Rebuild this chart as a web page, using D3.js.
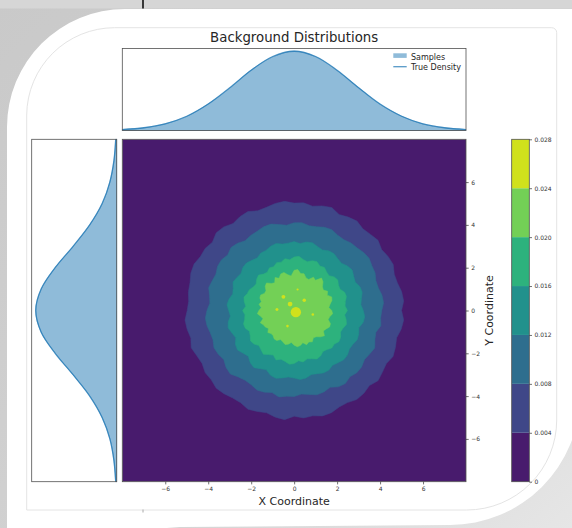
<!DOCTYPE html>
<html>
<head>
<meta charset="utf-8">
<script src="https://cdn.jsdelivr.net/npm/d3@7"></script>
<style>
  body { margin: 0; background: #d3d3d3; }
  svg { display: block; font-family: "DejaVu Sans", sans-serif; }
</style>
</head>
<body>
<div id="chart"></div>
<script>
// marginal densities, read at x (or y) = -8 ... 8
const gridPoints = [-8, -7, -6, -5, -4, -3, -2, -1, 0, 1, 2, 3, 4, 5, 6, 7, 8];
const xSamples = [0.0020, 0.0049, 0.0128, 0.0262, 0.0497, 0.0790, 0.1130, 0.1372, 0.1484, 0.1376, 0.1119, 0.0802, 0.0489, 0.0270, 0.0122, 0.0053, 0.0017];
const xTrue    = [0.0018, 0.0051, 0.0125, 0.0266, 0.0493, 0.0797, 0.1124, 0.1380, 0.1478, 0.1380, 0.1124, 0.0797, 0.0493, 0.0266, 0.0125, 0.0051, 0.0018];
const ySamples = [0.0019, 0.0052, 0.0124, 0.0268, 0.0490, 0.0801, 0.1121, 0.1384, 0.1480, 0.1378, 0.1127, 0.0794, 0.0496, 0.0264, 0.0127, 0.0050, 0.0018];
const yTrue    = [0.0018, 0.0051, 0.0125, 0.0266, 0.0493, 0.0797, 0.1124, 0.1380, 0.1478, 0.1380, 0.1124, 0.0797, 0.0493, 0.0266, 0.0125, 0.0051, 0.0018];

// filled contour levels of the 2D density
const contourLevels = [0, 0.004, 0.008, 0.012, 0.016, 0.020, 0.024, 0.028];

// contour boundaries: radius (data units) at each angle (degrees, counterclockwise from +x)
const ringAngles = [0, 5, 10, 15, 20, 25, 30, 35, 40, 45, 50, 55, 60, 65, 70, 75, 80, 85,
  90, 95, 100, 105, 110, 115, 120, 125, 130, 135, 140, 145, 150, 155, 160, 165, 170, 175,
  180, 185, 190, 195, 200, 205, 210, 215, 220, 225, 230, 235, 240, 245, 250, 255, 260, 265,
  270, 275, 280, 285, 290, 295, 300, 305, 310, 315, 320, 325, 330, 335, 340, 345, 350, 355];
const ring004 = [
  5.00, 5.12, 5.08, 4.98, 4.96, 5.09, 5.05, 4.97, 5.10, 5.03, 4.98, 5.10,
  5.04, 4.95, 5.12, 5.06, 4.95, 5.05, 5.02, 5.12, 5.08, 4.99, 4.96, 5.10,
  5.06, 4.96, 5.10, 5.13, 4.97, 5.06, 5.04, 5.14, 5.12, 5.02, 5.00, 4.93,
  4.98, 5.10, 5.06, 4.98, 5.10, 5.00, 4.95, 5.06, 5.04, 5.13, 5.08, 4.99,
  4.98, 5.09, 5.02, 4.95, 5.06, 5.12, 4.94, 5.04, 5.00, 5.10, 5.08, 4.97,
  4.97, 5.08, 5.05, 4.96, 5.10, 5.02, 4.96, 5.08, 5.02, 4.94, 5.06, 5.12];
const ring008 = [
  4.08, 4.18, 4.15, 4.06, 4.05, 4.16, 4.18, 4.26, 4.22, 4.14, 4.12, 4.04,
  4.06, 4.16, 4.14, 4.05, 4.02, 4.12, 4.10, 4.00, 4.08, 4.18, 4.16, 4.08,
  4.05, 3.98, 4.10, 4.16, 4.04, 4.13, 4.12, 4.02, 4.06, 4.12, 4.00, 3.94,
  4.06, 4.15, 4.12, 4.04, 4.02, 4.12, 4.08, 4.00, 4.14, 4.20, 4.05, 3.98,
  4.00, 4.10, 4.06, 3.97, 4.10, 4.02, 4.02, 3.92, 3.98, 4.08, 4.05, 3.96,
  4.12, 4.16, 4.04, 4.12, 4.10, 4.00, 4.06, 4.14, 4.00, 3.94, 4.10, 4.04];
const ring012 = [
  3.22, 3.12, 3.18, 3.28, 3.26, 3.14, 3.20, 3.30, 3.24, 3.12, 3.16, 3.24,
  3.22, 3.12, 3.18, 3.28, 3.25, 3.14, 3.22, 3.16, 3.15, 3.24, 3.20, 3.10,
  3.10, 3.00, 3.06, 3.14, 3.12, 3.02, 3.08, 3.14, 3.02, 2.96, 3.08, 3.14,
  3.05, 2.98, 3.12, 3.18, 3.08, 3.00, 3.16, 3.22, 3.10, 3.02, 3.18, 3.26,
  3.14, 3.06, 3.22, 3.28, 3.20, 3.12, 3.16, 3.24, 3.20, 3.10, 3.14, 3.22,
  3.22, 3.12, 3.18, 3.26, 3.24, 3.14, 3.16, 3.24, 3.20, 3.12, 3.26, 3.30];
const ring016 = [
  2.48, 2.38, 2.42, 2.52, 2.50, 2.36, 2.38, 2.48, 2.44, 2.30, 2.35, 2.46,
  2.40, 2.52, 2.48, 2.36, 2.42, 2.54, 2.50, 2.38, 2.46, 2.34, 2.38, 2.26,
  2.30, 2.18, 2.22, 2.34, 2.28, 2.16, 2.20, 2.30, 2.32, 2.42, 2.36, 2.26,
  2.40, 2.30, 2.34, 2.44, 2.42, 2.30, 2.36, 2.48, 2.44, 2.32, 2.40, 2.50,
  2.38, 2.30, 2.46, 2.36, 2.42, 2.52, 2.48, 2.36, 2.44, 2.34, 2.40, 2.50,
  2.46, 2.34, 2.38, 2.48, 2.44, 2.54, 2.50, 2.38, 2.42, 2.52, 2.46, 2.36];
const ring020 = [
  1.75, 1.62, 1.70, 1.82, 1.86, 1.70, 1.80, 1.66, 1.72, 1.90, 1.98, 1.72,
  1.80, 1.60, 1.62, 1.78, 1.75, 1.92, 1.88, 1.62, 1.70, 1.84, 1.82, 1.66,
  1.78, 1.58, 1.65, 1.82, 1.76, 1.60, 1.60, 1.72, 1.70, 1.58, 1.66, 1.54,
  1.64, 1.72, 1.58, 1.50, 1.68, 1.58, 1.55, 1.46, 1.60, 1.52, 1.53, 1.62,
  1.62, 1.50, 1.56, 1.64, 1.60, 1.50, 1.62, 1.70, 1.66, 1.56, 1.70, 1.62,
  1.69, 1.56, 1.60, 1.74, 1.84, 1.66, 1.72, 1.82, 1.80, 1.64, 1.68, 1.80];

// small patches above 0.024: [x, y, radius]
const peakSpots = [[0.08, -0.08, 0.24], [-0.5, 0.64, 0.09], [-0.19, 0.3, 0.11], [-0.8, 0.05, 0.07],
  [0.47, 0.48, 0.08], [-0.31, -0.73, 0.06], [0.87, -0.19, 0.06], [0.16, 0.98, 0.05]];

const xTicks = [-6, -4, -2, 0, 2, 4, 6];
const yTicks = [-6, -4, -2, 0, 2, 4, 6];
const cbarTicks = [0, 0.004, 0.008, 0.012, 0.016, 0.020, 0.024, 0.028];

const drawChart = () => {
  const width = 572, height = 528;
  const main = { left: 122.3, right: 466, top: 139.3, bottom: 481.7 };
  const topBox = { left: 122.3, right: 466, top: 48.5, bottom: 130.5 };
  const leftBox = { left: 31.7, right: 116.7, top: 139.3, bottom: 481.7 };
  const cbar = { left: 511.7, right: 529.3, top: 139.3, bottom: 481.7 };
  const textColor = '#262626';
  const spineColor = '#505050';
  const blue = '#1f77b4';

  const svg = d3.select('#chart')
    .append('svg')
      .attr('width', width)
      .attr('height', height)
      .attr('viewBox', `0 0 ${width} ${height}`);

  // photo frame around the figure
  const defs = svg.append('defs');
  const grad = defs.append('linearGradient')
    .attr('id', 'bg').attr('x1', 0).attr('y1', 0).attr('x2', 1).attr('y2', 1);
  grad.append('stop').attr('offset', 0).attr('stop-color', '#c9c9c9');
  grad.append('stop').attr('offset', 0.6).attr('stop-color', '#d2d2d2');
  grad.append('stop').attr('offset', 1).attr('stop-color', '#e6e6e6');

  svg.append('rect').attr('width', width).attr('height', height).attr('fill', 'url(#bg)');
  svg.append('rect').attr('x', 0).attr('y', 0).attr('width', width).attr('height', 8.5).attr('fill', '#d6d6d6');
  svg.append('line')
    .attr('x1', 143).attr('x2', 143).attr('y1', 0).attr('y2', 8.5)
    .attr('stroke', '#111').attr('stroke-width', 1.6);

  svg.append('path')
    .attr('d', 'M7,540 L7,127 A118,118 0 0 1 125,9 L580,9 L580,395 A130,130 0 0 1 450,525 L180,527 L7,540 Z')
    .attr('fill', '#fff');
  svg.append('path')
    .attr('d', 'M26.7,510 L26.7,115 A88,88 0 0 1 114.7,27.7 L551.7,27.7 A5,5 0 0 1 556.7,32.7 L556.7,420 A90,90 0 0 1 466.7,510 Z')
    .attr('fill', 'none').attr('stroke', '#e4e4e4').attr('stroke-width', 1);
  svg.append('line')
    .attr('x1', 143).attr('x2', 143).attr('y1', 509.5).attr('y2', 512.5)
    .attr('stroke', '#aaa').attr('stroke-width', 1);

  // scales
  const x = d3.scaleLinear().domain([-8, 8]).range([main.left, main.right]);
  const y = d3.scaleLinear().domain([-8, 8]).range([main.bottom, main.top]);
  const layerColor = i => d3.interpolateViridis(((contourLevels[i] + contourLevels[i + 1]) / 2) / contourLevels[contourLevels.length - 1]);

  // main filled contour
  defs.append('clipPath').attr('id', 'mainClip')
    .append('rect')
      .attr('x', main.left).attr('y', main.top)
      .attr('width', main.right - main.left).attr('height', main.bottom - main.top);

  const contour = svg.append('g').attr('clip-path', 'url(#mainClip)');
  contour.append('rect')
    .attr('x', main.left).attr('y', main.top)
    .attr('width', main.right - main.left).attr('height', main.bottom - main.top)
    .attr('fill', layerColor(0));

  const ringLine = d3.line()
    .x(d => x(d[0]))
    .y(d => y(d[1]))
    .curve(d3.curveLinearClosed);

  [ring004, ring008, ring012, ring016, ring020].forEach((ring, k) => {
    const pts = ring.map((r, i) => {
      const a = ringAngles[i] * Math.PI / 180;
      return [r * Math.cos(a), r * Math.sin(a)];
    });
    contour.append('path')
      .attr('d', ringLine(pts))
      .attr('fill', layerColor(k + 1))
      .attr('stroke', layerColor(k + 1))
      .attr('stroke-width', 0.5);
  });

  contour.selectAll('ellipse.peak')
    .data(peakSpots)
    .enter()
    .append('ellipse')
      .attr('class', 'peak')
      .attr('cx', d => x(d[0]))
      .attr('cy', d => y(d[1]))
      .attr('rx', d => x(d[2]) - x(0))
      .attr('ry', d => y(0) - y(d[2]))
      .attr('fill', layerColor(6));

  svg.append('rect')
    .attr('x', main.left).attr('y', main.top)
    .attr('width', main.right - main.left).attr('height', main.bottom - main.top)
    .attr('fill', 'none').attr('stroke', spineColor).attr('stroke-width', 0.8);

  const styleAxis = g => {
    g.select('.domain').remove();
    g.selectAll('line').attr('stroke', '#333').attr('stroke-width', 0.7);
    g.selectAll('text').attr('fill', '#333').attr('font-size', 6).attr('font-family', '"DejaVu Sans", sans-serif');
  };
  const minusFmt = d => (d < 0 ? '\u2212' + Math.abs(d) : String(d));

  svg.append('g')
    .attr('transform', `translate(0,${main.bottom})`)
    .call(d3.axisBottom(x).tickValues(xTicks).tickSize(2.7).tickPadding(2.8).tickFormat(minusFmt))
    .call(styleAxis);

  svg.append('g')
    .attr('transform', `translate(${main.right},0)`)
    .call(d3.axisRight(y).tickValues(yTicks).tickSize(2.7).tickPadding(2.5).tickFormat(minusFmt))
    .call(styleAxis);

  svg.append('text')
    .attr('x', (main.left + main.right) / 2)
    .attr('y', 505)
    .attr('text-anchor', 'middle')
    .attr('font-size', 11)
    .attr('fill', textColor)
    .text('X Coordinate');

  svg.append('text')
    .attr('transform', `translate(492.5,${(main.top + main.bottom) / 2}) rotate(-90)`)
    .attr('text-anchor', 'middle')
    .attr('font-size', 11)
    .attr('fill', textColor)
    .text('Y Coordinate');

  // top marginal
  const yTop = d3.scaleLinear().domain([0, d3.max(xTrue) * 1.035]).range([topBox.bottom, topBox.top]);
  const topArea = d3.area()
    .x((d, i) => x(gridPoints[i]))
    .y0(yTop(0))
    .y1(d => yTop(d))
    .curve(d3.curveCatmullRom);
  const topLine = d3.line()
    .x((d, i) => x(gridPoints[i]))
    .y(d => yTop(d))
    .curve(d3.curveCatmullRom);

  svg.append('path')
    .attr('d', topArea(xSamples))
    .attr('fill', blue).attr('fill-opacity', 0.5)
    .attr('stroke', blue).attr('stroke-opacity', 0.5).attr('stroke-width', 0.8);
  svg.append('path')
    .attr('d', topLine(xTrue))
    .attr('fill', 'none').attr('stroke', blue).attr('stroke-opacity', 0.75).attr('stroke-width', 1.3);
  svg.append('rect')
    .attr('x', topBox.left).attr('y', topBox.top)
    .attr('width', topBox.right - topBox.left).attr('height', topBox.bottom - topBox.top)
    .attr('fill', 'none').attr('stroke', spineColor).attr('stroke-width', 0.8);

  svg.append('text')
    .attr('x', (topBox.left + topBox.right) / 2)
    .attr('y', 41.5)
    .attr('text-anchor', 'middle')
    .attr('font-size', 13.3)
    .attr('fill', textColor)
    .text('Background Distributions');

  // legend
  const legend = svg.append('g').attr('font-size', 8).attr('fill', textColor);
  legend.append('rect')
    .attr('x', 393.3).attr('y', 53.3).attr('width', 13.4).attr('height', 4.6)
    .attr('fill', blue).attr('fill-opacity', 0.5);
  legend.append('text').attr('x', 411).attr('y', 59.8).text('Samples');
  legend.append('line')
    .attr('x1', 393.3).attr('x2', 406.7).attr('y1', 66.7).attr('y2', 66.7)
    .attr('stroke', blue).attr('stroke-opacity', 0.75).attr('stroke-width', 1.3);
  legend.append('text').attr('x', 411).attr('y', 69.8).text('True Density');

  // left marginal
  const xLeft = d3.scaleLinear().domain([0, d3.max(yTrue) * 1.05]).range([leftBox.right, leftBox.left]);
  const leftArea = d3.area()
    .y((d, i) => y(gridPoints[i]))
    .x0(xLeft(0))
    .x1(d => xLeft(d))
    .curve(d3.curveCatmullRom);
  const leftLine = d3.line()
    .y((d, i) => y(gridPoints[i]))
    .x(d => xLeft(d))
    .curve(d3.curveCatmullRom);

  svg.append('path')
    .attr('d', leftArea(ySamples))
    .attr('fill', blue).attr('fill-opacity', 0.5)
    .attr('stroke', blue).attr('stroke-opacity', 0.5).attr('stroke-width', 0.8);
  svg.append('path')
    .attr('d', leftLine(yTrue))
    .attr('fill', 'none').attr('stroke', blue).attr('stroke-opacity', 0.75).attr('stroke-width', 1.3);
  svg.append('rect')
    .attr('x', leftBox.left).attr('y', leftBox.top)
    .attr('width', leftBox.right - leftBox.left).attr('height', leftBox.bottom - leftBox.top)
    .attr('fill', 'none').attr('stroke', spineColor).attr('stroke-width', 0.8);

  // colorbar
  const c = d3.scaleLinear()
    .domain([contourLevels[0], contourLevels[contourLevels.length - 1]])
    .range([cbar.bottom, cbar.top]);
  svg.append('g').selectAll('rect')
    .data(contourLevels.slice(0, -1))
    .enter()
    .append('rect')
      .attr('x', cbar.left)
      .attr('width', cbar.right - cbar.left)
      .attr('y', (d, i) => c(contourLevels[i + 1]))
      .attr('height', (d, i) => c(d) - c(contourLevels[i + 1]))
      .attr('fill', (d, i) => layerColor(i));
  svg.append('rect')
    .attr('x', cbar.left).attr('y', cbar.top)
    .attr('width', cbar.right - cbar.left).attr('height', cbar.bottom - cbar.top)
    .attr('fill', 'none').attr('stroke', spineColor).attr('stroke-width', 0.8);
  svg.append('g')
    .attr('transform', `translate(${cbar.right},0)`)
    .call(d3.axisRight(c).tickValues(cbarTicks).tickSize(2.7).tickPadding(2.5)
      .tickFormat(d => (d === 0 ? '0' : d3.format('.3f')(d))))
    .call(styleAxis);
};

drawChart();
</script>
</body>
</html>
